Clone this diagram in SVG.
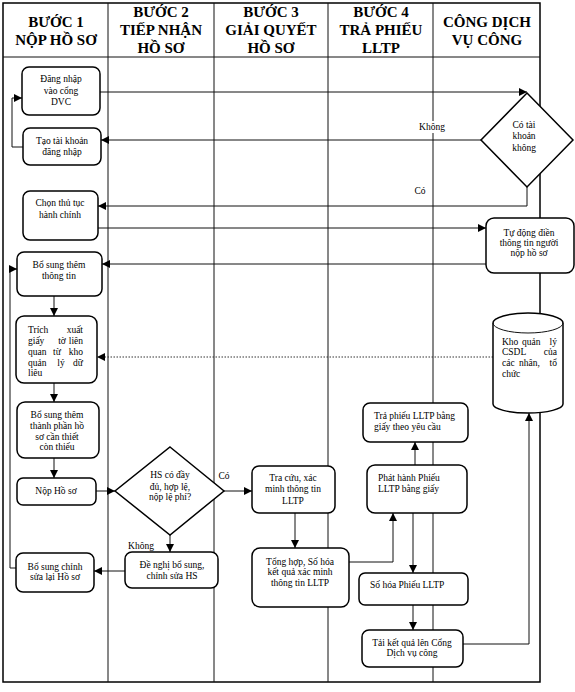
<svg xmlns="http://www.w3.org/2000/svg" width="575" height="692" viewBox="0 0 575 692" font-family="Liberation Serif, DejaVu Serif, serif">
<style>
.frame{fill:none;stroke:#000;stroke-width:1.5}
.div{stroke:#111;stroke-width:1}
.hd{font-family:'Liberation Serif','DejaVu Serif',serif;font-weight:bold;font-size:15px;text-anchor:middle;fill:#000}
.box{fill:#fff;stroke:#000;stroke-width:1.5}
.t{font-family:'Liberation Serif','DejaVu Serif',serif;font-size:9.5px;fill:#000}
.c{text-anchor:middle}
.e{text-anchor:end}
.ln{fill:none;stroke:#111;stroke-width:1}
.arr{marker-end:url(#ah)}
.dot{fill:none;stroke:#333;stroke-width:1;stroke-dasharray:1.5 1.5}
.lbg{fill:#fff}
</style>
<defs>
<marker id="ah" markerUnits="userSpaceOnUse" markerWidth="8" markerHeight="8" refX="8" refY="4" orient="auto">
<path d="M0,0 L8,4 L0,8 z" fill="#000"/>
</marker>
</defs>
<rect width="575" height="692" fill="#fff"/>
<g id="lanes">
<rect class="frame" x="3" y="3" width="537" height="679"/>
<line class="div" x1="3" y1="57" x2="540" y2="57" stroke="#555"/>
<line class="div" x1="108" y1="3" x2="108" y2="682"/>
<line class="div" x1="214" y1="3" x2="214" y2="682"/>
<line class="div" x1="328" y1="3" x2="328" y2="682"/>
<line class="div" x1="433" y1="3" x2="433" y2="682"/>
<text class="hd" x="56" y="27">BƯỚC 1</text>
<text class="hd" x="56" y="45">NỘP HỒ SƠ</text>
<text class="hd" x="161" y="17">BƯỚC 2</text>
<text class="hd" x="161" y="35">TIẾP NHẬN</text>
<text class="hd" x="161" y="53">HỒ SƠ</text>
<text class="hd" x="271" y="17">BƯỚC 3</text>
<text class="hd" x="271" y="35">GIẢI QUYẾT</text>
<text class="hd" x="271" y="53">HỒ SƠ</text>
<text class="hd" x="381" y="17">BƯỚC 4</text>
<text class="hd" x="381" y="35">TRẢ PHIẾU</text>
<text class="hd" x="381" y="53">LLTP</text>
<text class="hd" x="487" y="27">CÔNG DỊCH</text>
<text class="hd" x="487" y="45">VỤ CÔNG</text>
</g>
<g id="connectors">
<polyline class="ln arr" points="100,92 527,92"/>
<polyline class="ln arr" points="481,140 101,140"/>
<polyline class="ln arr" points="23,147 12,147 12,98 22,98"/>
<polyline class="ln arr" points="527,187 527,206 98,206"/>
<polyline class="ln arr" points="98,228 486,228"/>
<polyline class="ln arr" points="486,264 102,264"/>
<polyline class="ln arr" points="54,296 54,316"/>
<polyline class="ln arr" points="54,383 54,402"/>
<polyline class="ln arr" points="54,458 54,478"/>
<polyline class="ln arr" points="96,491 115,491"/>
<polyline class="ln arr" points="224,491 252,491"/>
<polyline class="ln arr" points="170,535 170,552"/>
<polyline class="ln arr" points="125,571 94,571"/>
<polyline class="ln arr" points="16,568 10,568 10,269 17,269"/>
<polyline class="ln arr" points="295,513 295,548"/>
<polyline class="ln arr" points="349,562 393,562 393,513"/>
<polyline class="ln arr" points="415,465 415,442"/>
<polyline class="ln arr" points="413,513 413,573"/>
<polyline class="ln arr" points="413,605 413,630"/>
<polyline class="ln arr" points="463,644 529,644 529,413"/>
<polyline class="dot arr" points="493,357 97,357"/>
<rect class="lbg" x="418" y="121" width="29" height="12"/>
<text class="t c" x="432" y="130">Không</text>
<rect class="lbg" x="412" y="185" width="16" height="12"/>
<text class="t c" x="420" y="194">Có</text>
<text class="t c" x="224" y="479">Có</text>
<text class="t c" x="141" y="549">Không</text>
</g>
<g id="n-dangnhap">
<rect class="box" x="22" y="67" width="78" height="48" rx="7"/>
<text class="t c" x="61" y="82">Đăng nhập</text>
<text class="t c" x="61" y="94">vào cổng</text>
<text class="t c" x="61" y="105">DVC</text>
</g>
<g id="n-taotk">
<rect class="box" x="23" y="128" width="78" height="37" rx="7"/>
<text class="t c" x="62" y="144">Tạo tài khoản</text>
<text class="t c" x="62" y="155">đăng nhập</text>
</g>
<g id="n-chon">
<rect class="box" x="23" y="191" width="75" height="49" rx="7"/>
<text class="t c" x="60" y="206">Chọn thủ tục</text>
<text class="t c" x="60" y="218">hành chính</text>
</g>
<g id="n-bosung">
<rect class="box" x="17" y="252" width="85" height="44" rx="7"/>
<text class="t c" x="59" y="268">Bổ sung thêm</text>
<text class="t c" x="59" y="279">thông tin</text>
</g>
<g id="n-trich">
<rect class="box" x="16" y="316" width="81" height="67" rx="8"/>
<text class="t" x="28" y="333">Trích</text><text class="t e" x="83" y="333">xuất</text>
<text class="t" x="28" y="344">giấy</text><text class="t c" x="62" y="344">tờ</text><text class="t e" x="83" y="344">liên</text>
<text class="t" x="28" y="355">quan</text><text class="t c" x="57" y="355">từ</text><text class="t e" x="83" y="355">kho</text>
<text class="t" x="28" y="366">quản</text><text class="t c" x="61" y="366">lý</text><text class="t e" x="83" y="366">dữ</text>
<text class="t" x="28" y="376">liêu</text>
</g>
<g id="n-bosung2">
<rect class="box" x="17" y="402" width="82" height="56" rx="8"/>
<text class="t c" x="57" y="418">Bổ sung thêm</text>
<text class="t c" x="57" y="429">thành phần hồ</text>
<text class="t c" x="57" y="440">sơ cần thiết</text>
<text class="t c" x="57" y="450">còn thiếu</text>
</g>
<g id="n-nop">
<rect class="box" x="17" y="478" width="79" height="27" rx="6"/>
<text class="t c" x="56" y="494">Nộp Hồ sơ</text>
</g>
<g id="n-chinhsua">
<rect class="box" x="16" y="553" width="78" height="39" rx="7"/>
<text class="t c" x="55" y="570">Bổ sung chỉnh</text>
<text class="t c" x="55" y="580">sửa lại Hồ sơ</text>
</g>
<g id="n-hsdu">
<polygon class="box" points="170,447 224,491 170,535 115,491"/>
<text class="t c" x="170" y="478">HS có đầy</text>
<text class="t c" x="170" y="490">đủ, hợp lệ,</text>
<text class="t c" x="170" y="500">nộp lệ phí?</text>
</g>
<g id="n-denghi">
<rect class="box" x="125" y="552" width="93" height="36" rx="7"/>
<text class="t c" x="172" y="568">Đề nghị bổ sung,</text>
<text class="t c" x="172" y="579">chỉnh sửa HS</text>
</g>
<g id="n-tracuu">
<rect class="box" x="252" y="466" width="83" height="47" rx="7"/>
<text class="t c" x="293" y="481">Tra cứu, xác</text>
<text class="t c" x="293" y="492">minh thông tin</text>
<text class="t c" x="293" y="504">LLTP</text>
</g>
<g id="n-tonghop">
<rect class="box" x="252" y="548" width="97" height="59" rx="8"/>
<text class="t c" x="300" y="565">Tổng hợp, Số hóa</text>
<text class="t c" x="300" y="575">kết quả xác minh</text>
<text class="t c" x="300" y="586">thông tin LLTP</text>
</g>
<g id="n-traphieu">
<rect class="box" x="363" y="403" width="105" height="39" rx="7"/>
<text class="t" x="374" y="419">Trả phiếu LLTP bằng</text>
<text class="t" x="374" y="430">giấy theo yêu cầu</text>
</g>
<g id="n-phathanh">
<rect class="box" x="367" y="465" width="100" height="48" rx="8"/>
<text class="t" x="378" y="481">Phát hành Phiếu</text>
<text class="t" x="378" y="492">LLTP bằng giấy</text>
</g>
<g id="n-sohoa">
<rect class="box" x="359" y="573" width="109" height="32" rx="6"/>
<text class="t" x="370" y="588">Số hóa Phiếu LLTP</text>
</g>
<g id="n-taiketqua">
<rect class="box" x="362" y="630" width="101" height="37" rx="7"/>
<text class="t c" x="412" y="646">Tải kết quả lên Cổng</text>
<text class="t c" x="412" y="656">Dịch vụ công</text>
</g>
<g id="n-cotk">
<polygon class="box" points="527,93 573,140 527,187 481,140"/>
<text class="t c" x="524" y="128">Có tài</text>
<text class="t c" x="524" y="139">khoản</text>
<text class="t c" x="524" y="151">không</text>
</g>
<g id="n-tudong">
<rect class="box" x="486" y="218" width="88" height="55" rx="8"/>
<text class="t c" x="529" y="236">Tự động điền</text>
<text class="t c" x="529" y="246">thông tin người</text>
<text class="t c" x="529" y="256">nộp hồ sơ</text>
</g>
<g id="n-kho">
<path class="box" d="M493,323 A35,10 0 0 1 563,323 L563,404 A35,9 0 0 1 493,404 Z"/>
<path class="ln" d="M493,323 A35,10 0 0 0 563,323" stroke="#000" stroke-width="1.5"/>
<text class="t" x="502" y="345">Kho</text><text class="t" x="522" y="345">quản</text><text class="t e" x="557" y="345">lý</text>
<text class="t" x="502" y="355">CSDL</text><text class="t e" x="557" y="355">của</text>
<text class="t" x="502" y="366">các</text><text class="t" x="519" y="366">nhân,</text><text class="t e" x="557" y="366">tổ</text>
<text class="t" x="502" y="377">chức</text>
</g>
</svg>
